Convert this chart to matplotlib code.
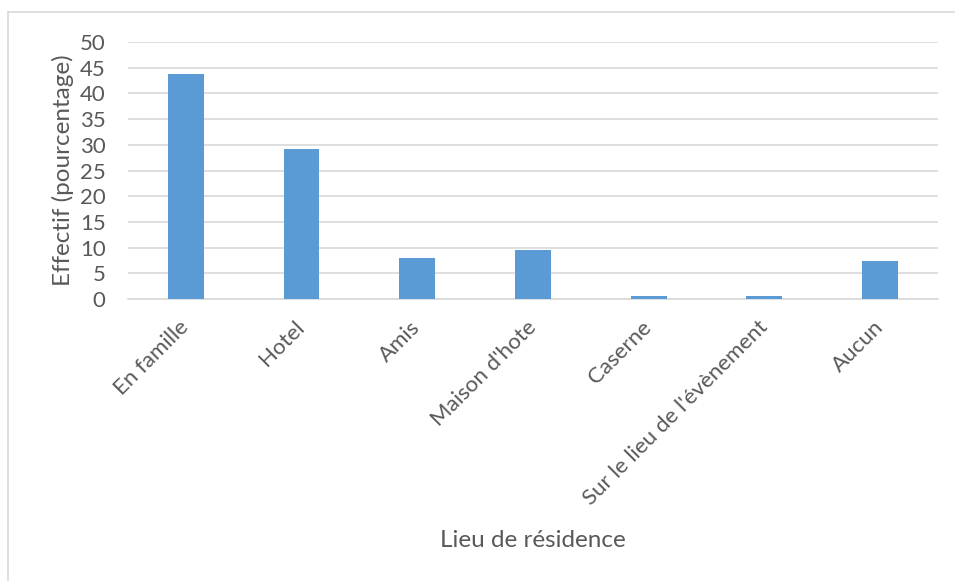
import matplotlib
matplotlib.use('Agg')
import matplotlib.pyplot as plt
import matplotlib.transforms as mtransforms
from matplotlib.lines import Line2D
import numpy as np

# ---------------------------------------------------

categories = ['En famille', 'Hotel', 'Amis', "Maison d'hote", 'Caserne',
              "Sur le lieu de l'évènement", 'Aucun']
effectif = [43.8, 29.2, 8.1, 9.6, 0.6, 0.6, 7.5]
y_ticks = [0, 5, 10, 15, 20, 25, 30, 35, 40, 45, 50]

bar_color = '#5b9bd5'
text_color = '#595959'
grid_color = '#d9d9d9'

# ---------------------------------------------------

plt.rcParams['font.family'] = ['Lato', 'DejaVu Sans']

fig = plt.figure(figsize=(9.55, 5.81), dpi=100)
ax = fig.add_axes([0.134, 0.485, 0.848, 0.443])

x = np.arange(len(categories))
ax.bar(x, effectif, width=0.31, color=bar_color, zorder=3)

ax.set_xlim(-0.5, len(categories) - 0.5)
ax.set_ylim(0, 50)
ax.set_yticks(y_ticks)
ax.set_xticks(x)
ax.set_xticklabels(categories, rotation=45, ha='right', rotation_mode='anchor')

ax.yaxis.grid(True, color=grid_color, linewidth=1.2, zorder=0)
ax.set_axisbelow(True)
for side in ['top', 'right', 'left']:
    ax.spines[side].set_visible(False)
ax.spines['bottom'].set_color(grid_color)
ax.spines['bottom'].set_linewidth(1.2)
ax.tick_params(length=0, colors=text_color, labelsize=16)
ax.tick_params(axis='y', pad=16)
ax.tick_params(axis='x', pad=10)

# nudge the slanted labels a little left and down (after tick_params,
# which would reset the transform)
shift = mtransforms.ScaledTranslation(-7 / 100, -4 / 100, fig.dpi_scale_trans)
for lbl in ax.get_xticklabels():
    lbl.set_transform(lbl.get_transform() + shift)

ax.set_ylabel('Effectif (pourcentage)', fontsize=17.5, color=text_color, labelpad=4.5)
fig.text(0.558, 0.07, 'Lieu de résidence', fontsize=17.5, color=text_color,
         ha='center', va='center')

# light frame around the chart area
fig.add_artist(Line2D([7.5 / 955, 7.5 / 955], [0, 1 - 12 / 581],
                      transform=fig.transFigure, color=grid_color, linewidth=1.2))
fig.add_artist(Line2D([7.5 / 955, 1], [1 - 12 / 581, 1 - 12 / 581],
                      transform=fig.transFigure, color=grid_color, linewidth=1.2))

fig.savefig('out.png', dpi=100)
